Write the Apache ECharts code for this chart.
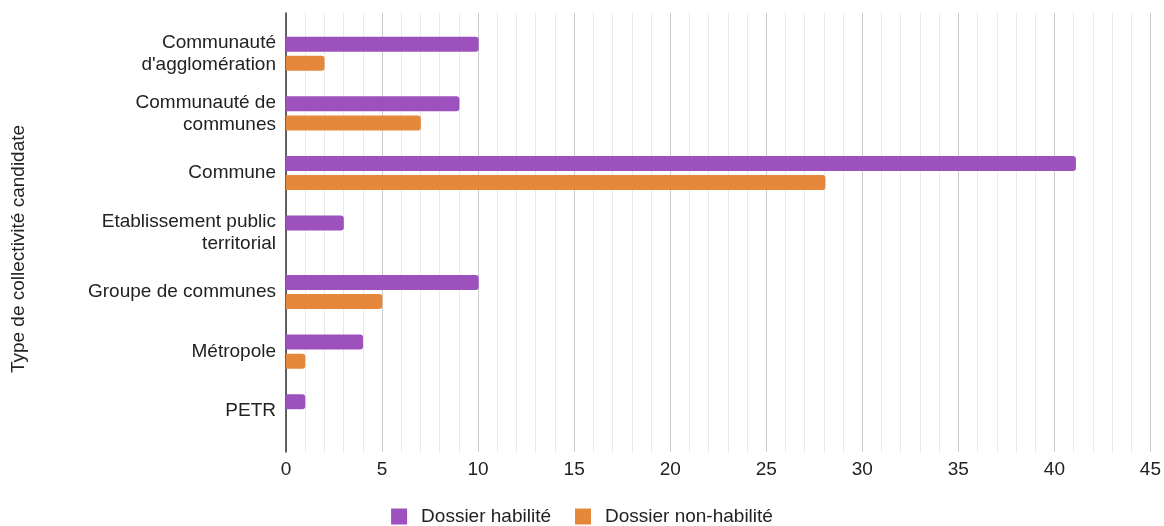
<!DOCTYPE html>
<html>
<head>
<meta charset="utf-8">
<script src="https://cdn.jsdelivr.net/npm/echarts@6/dist/echarts.min.js"></script>
<style>
  html, body { margin: 0; padding: 0; background: #fff; }
  #chart { width: 1164px; height: 526px; }
</style>
</head>
<body>
<div id="chart"></div>
<script>
// Types of candidate local authorities
const categories = [
  "Communauté\nd'agglomération",
  "Communauté de\ncommunes",
  "Commune",
  "Etablissement public\nterritorial",
  "Groupe de communes",
  "Métropole",
  "PETR"
];
const habilite = [10, 9, 41, 3, 10, 4, 1];
const nonHabilite = [2, 7, 28, 0, 5, 1, 0];
const xTicks = { min: 0, max: 45, interval: 5 };

const FONT = "'Liberation Sans', Arial, sans-serif";
const FS = 19;
const chart = echarts.init(document.getElementById('chart'), null, { renderer: 'canvas' });

chart.setOption({
  animation: false,
  textStyle: { fontFamily: FONT },
  grid: [
    // bars
    { left: 286, right: 11, top: 24, bottom: 85, containLabel: false },
    // full-height grid lines and tick labels
    { left: 286, right: 11, top: 13, bottom: 74, containLabel: false }
  ],
  xAxis: [
    {
      gridIndex: 0, type: 'value', min: xTicks.min, max: xTicks.max, interval: xTicks.interval,
      show: false
    },
    {
      gridIndex: 1, type: 'value', min: xTicks.min, max: xTicks.max, interval: xTicks.interval,
      axisLine: { show: false }, axisTick: { show: false },
      axisLabel: { color: '#222', fontSize: FS, margin: 8, fontFamily: FONT },
      splitLine: { show: true, lineStyle: { color: '#cccccc', width: 1 } },
      minorTick: { show: false, splitNumber: 5 },
      minorSplitLine: { show: true, lineStyle: { color: '#e9e9e9', width: 1 } }
    }
  ],
  yAxis: [
    {
      gridIndex: 0, type: 'category', data: categories, inverse: true,
      axisLine: { show: false }, axisTick: { show: false },
      axisLabel: { color: '#222', fontSize: FS, lineHeight: 22, margin: 10, fontFamily: FONT, align: 'right',
        padding: [4, 0, 0, 0] }
    },
    {
      gridIndex: 1, type: 'value', min: 0, max: 1,
      axisLine: { show: true, onZero: false, lineStyle: { color: '#333', width: 1.5 } },
      axisTick: { show: false }, axisLabel: { show: false }, splitLine: { show: false }
    }
  ],
  legend: {
    top: 507, left: 'center', padding: 0,
    itemWidth: 16, itemHeight: 16, icon: 'rect', itemGap: 24,
    textStyle: { color: '#222', fontSize: FS, fontFamily: FONT, padding: [0, 0, 0, 9] },
    data: ['Dossier habilité', 'Dossier non-habilité']
  },
  graphic: [{
    type: 'text',
    rotation: Math.PI / 2,
    x: 9, y: 249,
    style: { text: 'Type de collectivité candidate', fill: '#222', font: FS + 'px ' + FONT, align: 'center', verticalAlign: 'top' }
  }],
  series: [
    {
      name: 'Dossier habilité', type: 'bar', xAxisIndex: 0, yAxisIndex: 0,
      data: habilite, barWidth: 15, barGap: '27%',
      itemStyle: { color: '#9d51bd', borderRadius: [0, 3, 3, 0] }
    },
    {
      name: 'Dossier non-habilité', type: 'bar', xAxisIndex: 0, yAxisIndex: 0,
      data: nonHabilite, barWidth: 15, barGap: '27%',
      itemStyle: { color: '#e6883c', borderRadius: [0, 3, 3, 0] }
    }
  ]
});
</script>
</body>
</html>
